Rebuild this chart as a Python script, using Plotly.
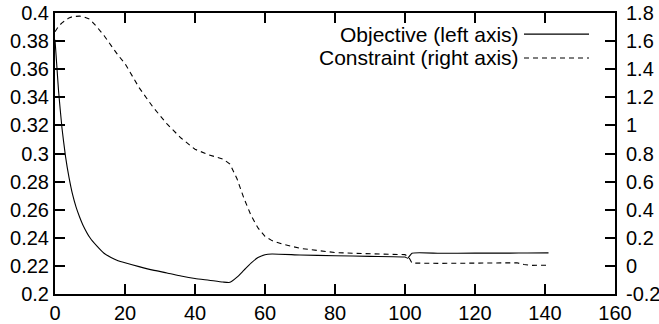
import plotly.graph_objects as go

# Objective (left axis)
obj_x = [0, 1, 2, 3, 4, 5, 6, 7, 8, 10, 12, 14, 16, 18, 20, 24, 28, 32, 36, 40, 44, 48, 50,
         52, 54, 56, 58, 60, 62, 70, 80, 90, 100, 100.8, 102, 110, 120, 130, 135, 141]
obj_y = [0.381, 0.345, 0.318, 0.298, 0.283, 0.271, 0.262, 0.255, 0.249, 0.240, 0.234, 0.229,
         0.226, 0.2237, 0.2222, 0.2195, 0.2170, 0.2150, 0.2128, 0.2110, 0.2098, 0.2085, 0.2083,
         0.2120, 0.2170, 0.2220, 0.2260, 0.2280, 0.2285, 0.2278, 0.2272, 0.2268, 0.2263, 0.2255,
         0.2290, 0.2290, 0.2291, 0.2291, 0.2292, 0.2293]

# Constraint (right axis)
con_x = [0, 1, 2, 3, 4, 5, 6, 7, 8, 10, 12, 14, 16, 18, 20, 24, 28, 32, 36, 40, 44, 48, 50,
         52, 54, 56, 58, 60, 62, 65, 70, 76, 80, 85, 90, 95, 100, 101, 102, 110, 120, 125,
         132, 134, 136, 141]
con_y = [1.667, 1.705, 1.73, 1.75, 1.765, 1.774, 1.778, 1.778, 1.775, 1.755, 1.70, 1.64,
         1.57, 1.50, 1.44, 1.27, 1.13, 1.01, 0.91, 0.83, 0.79, 0.76, 0.725, 0.62, 0.48, 0.36,
         0.27, 0.21, 0.18, 0.155, 0.125, 0.105, 0.095, 0.09, 0.085, 0.082, 0.08, 0.065, 0.02,
         0.018, 0.019, 0.022, 0.022, 0.01, 0.004, 0.005]

x_ticks = [0, 20, 40, 60, 80, 100, 120, 140, 160]
y1_ticks = [0.2, 0.22, 0.24, 0.26, 0.28, 0.3, 0.32, 0.34, 0.36, 0.38, 0.4]
y1_labels = ["0.2", "0.22", "0.24", "0.26", "0.28", "0.3", "0.32", "0.34", "0.36", "0.38", "0.4"]
y2_ticks = [-0.2, 0, 0.2, 0.4, 0.6, 0.8, 1.0, 1.2, 1.4, 1.6, 1.8]
y2_labels = ["-0.2", "0", "0.2", "0.4", "0.6", "0.8", "1", "1.2", "1.4", "1.6", "1.8"]

legend_names = ["Objective (left axis)", "Constraint (right axis)"]

FONT = "Liberation Sans, Arial, Helvetica, sans-serif"

fig = go.Figure()
fig.add_trace(go.Scatter(x=obj_x, y=obj_y, mode="lines", name=legend_names[0],
                         line=dict(color="black", width=1.1, shape="spline", smoothing=0.5),
                         yaxis="y", showlegend=False))
fig.add_trace(go.Scatter(x=con_x, y=con_y, mode="lines", name=legend_names[1],
                         line=dict(color="black", width=1.1, dash="5px,4px"), yaxis="y2",
                         showlegend=False))

axis_common = dict(showgrid=False, zeroline=False, showline=True, linecolor="black",
                   linewidth=2, ticks="inside", ticklen=10, tickwidth=1.5, tickcolor="black",
                   automargin=False,
                   tickfont=dict(family=FONT, size=20, color="black"))

fig.update_layout(
    width=659, height=324,
    margin=dict(l=55, r=44, t=13, b=30),
    paper_bgcolor="white", plot_bgcolor="white",
    xaxis=dict(range=[0, 160], tickvals=x_ticks, ticktext=[str(v) for v in x_ticks],
               mirror="ticks", **axis_common),
    yaxis=dict(range=[0.2, 0.4], tickvals=y1_ticks, ticktext=y1_labels, **axis_common),
    yaxis2=dict(range=[-0.2, 1.8], tickvals=y2_ticks, ticktext=y2_labels, overlaying="y",
                side="right", ticklabelstandoff=5, **axis_common),
)

# gnuplot-style key: text right-aligned, line sample to the right
key_rows = [(0.925, "solid"), (0.84, "5px,4px")]
for name, (ypos, dash) in zip(legend_names, key_rows):
    fig.add_annotation(x=0.832, y=ypos, xref="paper", yref="paper", text=name,
                       showarrow=False, xanchor="right", yanchor="middle",
                       font=dict(family=FONT, size=21, color="black"))
    fig.add_shape(type="line", xref="paper", yref="paper", x0=0.8375, x1=0.9536,
                  y0=ypos, y1=ypos, line=dict(color="black", width=1.1, dash=dash))

fig.write_html("out.html")
